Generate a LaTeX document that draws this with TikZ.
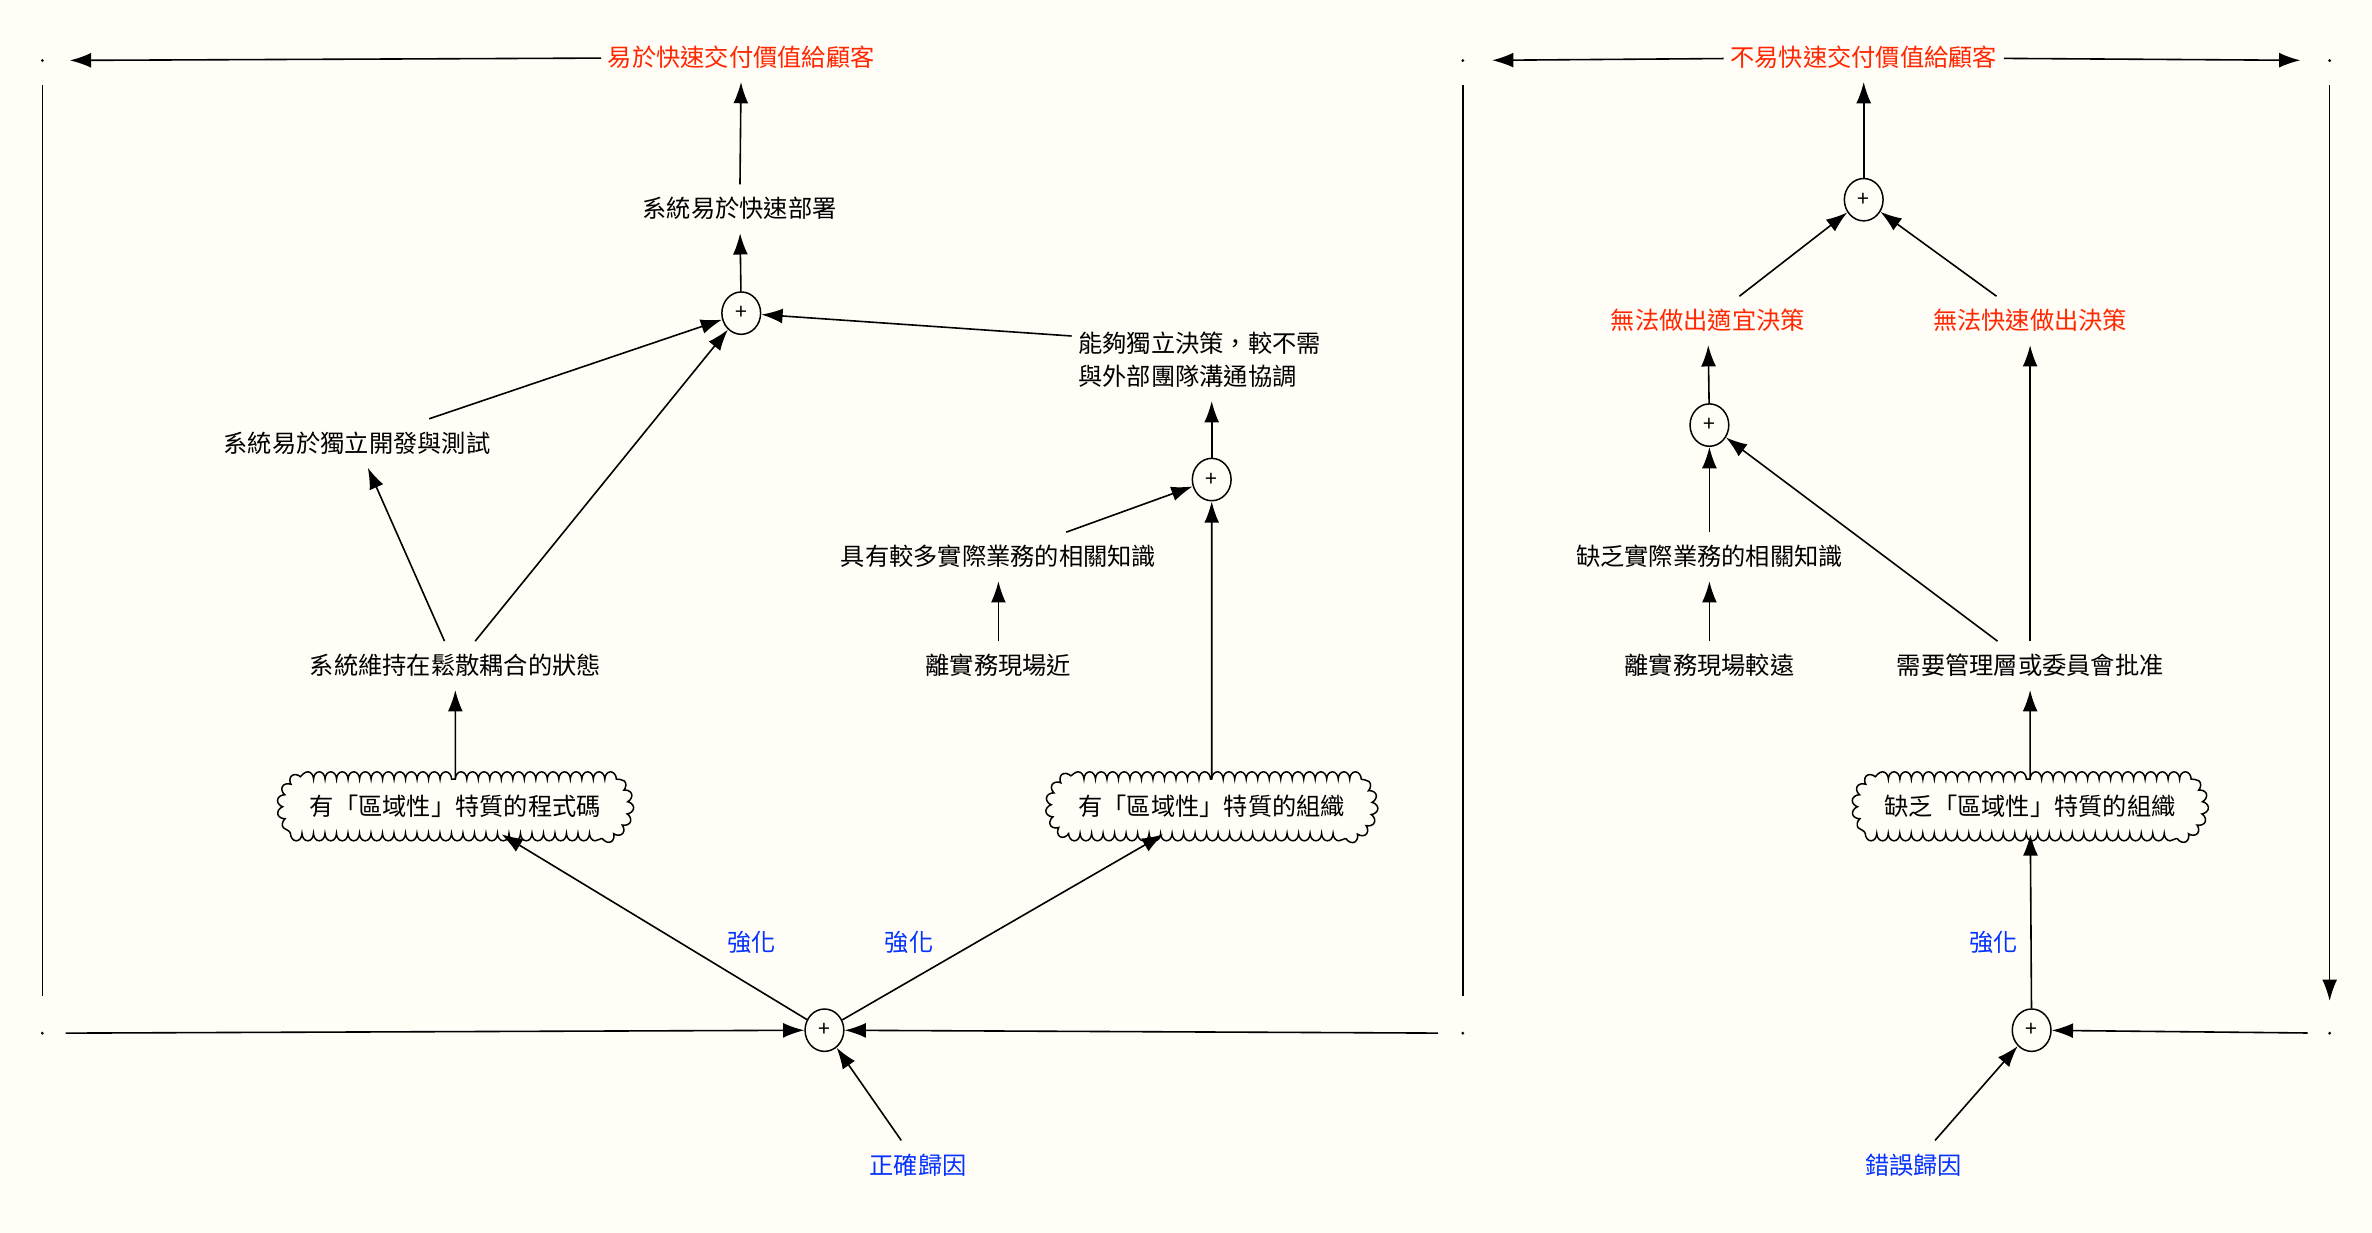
\documentclass[tikz,border=0pt]{standalone}
\usepackage{fontspec}
\setmainfont{Noto Sans CJK TC}
\usepackage{tikz}
\usetikzlibrary{arrows.meta,decorations.pathmorphing,shapes.geometric,shapes.misc}
\definecolor{paper}{RGB}{255,253,246}
\definecolor{goalred}{RGB}{255,38,0}
\definecolor{causeblue}{RGB}{4,51,255}
\tikzset{
  every node/.style={font=\fontsize{11.4}{15.6}\selectfont},
  txt/.style={inner xsep=3pt, inner ysep=6pt},
  goal/.style={txt, text=goalred},
  cause/.style={txt, text=causeblue},
  plusnode/.style={draw, ellipse, line width=0.7pt, minimum width=0.64cm, minimum height=0.7cm, inner sep=0pt, font=\fontsize{10}{10}\selectfont},
  cloudbox/.style={draw, line width=0.7pt, rounded rectangle, rounded rectangle arc length=120, minimum height=0.9cm, inner xsep=0.38cm, decorate, decoration={bumps, segment length=0.38cm, amplitude=0.12cm}},
  dot/.style={circle, fill, inner sep=0pt, minimum size=1.5pt},
  flow/.style={line width=0.75pt, -{Latex[length=10pt,width=7pt]}},
  wall/.style={line width=0.75pt},
}
\begin{document}
\begin{tikzpicture}[x=0.025cm, y=-0.025cm]
\fill[paper] (0,0) rectangle (1568,815);
% corner points
\node[dot] (tl) at (28,40) {};
\node[dot] (tm) at (967,40) {};
\node[dot] (tr) at (1540,40) {};
\node[dot] (bl) at (28,683) {};
\node[dot] (bm) at (967,683) {};
\node[dot] (br) at (1540,683) {};
% left side
\node[goal] (g1) at (490,38) {易於快速交付價值給顧客};
\node[txt] (deploy) at (489,138) {系統易於快速部署};
\node[plusnode] (s1) at (490,207) {+};
\node[txt] (indep) at (236,293) {系統易於獨立開發與測試};
\node[txt, align=left] (decide) at (793,238) {能夠獨立決策，較不需\\與外部團隊溝通協調};
\node[plusnode] (s2) at (801,317) {+};
\node[txt] (know) at (660,368) {具有較多實際業務的相關知識};
\node[txt] (near) at (660,440) {離實務現場近};
\node[txt] (loose) at (301,440) {系統維持在鬆散耦合的狀態};
\node[cloudbox] (c1) at (301,533) {有「區域性」特質的程式碼};
\node[cloudbox] (c2) at (801,533) {有「區域性」特質的組織};
\node[plusnode] (s3) at (545,681) {+};
\node[cause] (why1) at (607,770) {正確歸因};
\node[cause] (r1) at (497,623) {強化};
\node[cause] (r2) at (601,623) {強化};
% right side
\node[goal] (g2) at (1232,38) {不易快速交付價值給顧客};
\node[plusnode] (s4) at (1232,132) {+};
\node[goal] (bad1) at (1129,212) {無法做出適宜決策};
\node[goal] (bad2) at (1342,212) {無法快速做出決策};
\node[plusnode] (s5) at (1130,281) {+};
\node[txt] (lack) at (1130,368) {缺乏實際業務的相關知識};
\node[txt] (far) at (1130,440) {離實務現場較遠};
\node[txt] (approve) at (1342,440) {需要管理層或委員會批准};
\node[cloudbox] (c3) at (1342,533) {缺乏「區域性」特質的組織};
\node[plusnode] (s6) at (1343,681) {+};
\node[cause] (why2) at (1265,770) {錯誤歸因};
\node[cause] (r3) at (1318,623) {強化};
% loops
\draw[flow, shorten >=0.42cm] (g1) -- (tl);
\draw[wall, shorten <=0.375cm, shorten >=0.575cm] (tl) -- (bl);
\draw[wall, shorten <=0.375cm, shorten >=0.575cm] (tm) -- (bm);
\draw[flow, shorten <=0.35cm] (bl) -- (s3);
\draw[flow, shorten <=0.375cm] (bm) -- (s3);
\draw[flow, shorten >=0.45cm] (g2) -- (tm);
\draw[flow, shorten >=0.45cm] (g2) -- (tr);
\draw[flow, shorten <=0.375cm, shorten >=0.5cm] (tr) -- (br);
\draw[flow, shorten <=0.33cm] (br) -- (s6);
% left links
\draw[flow] (deploy) -- (g1);
\draw[flow] (s1) -- (deploy);
\draw[flow] (indep) -- (s1);
\draw[flow] (loose) -- (s1);
\draw[flow] ([yshift=-8pt]decide.north west) -- (s1);
\draw[flow] (loose) -- (indep);
\draw[flow] (s2) -- (s2 |- decide.south);
\draw[flow] (know) -- (s2);
\draw[flow] (near) -- (know);
\draw[flow] (c2) -- (s2);
\draw[flow] (c1) -- (loose);
\draw[flow] (s3) -- (c1);
\draw[flow] (s3) -- (c2);
\draw[flow] (why1) -- (s3);
% right links
\draw[flow] (s4) -- (g2);
\draw[flow] (bad1) -- (s4);
\draw[flow] (bad2) -- (s4);
\draw[flow] (s5) -- (bad1);
\draw[flow] (lack) -- (s5);
\draw[flow] (approve) -- (s5);
\draw[flow] (approve) -- (bad2);
\draw[flow] (far) -- (lack);
\draw[flow] (c3) -- (approve);
\draw[flow] (s6) -- (c3);
\draw[flow] (why2) -- (s6);
\end{tikzpicture}
\end{document}
